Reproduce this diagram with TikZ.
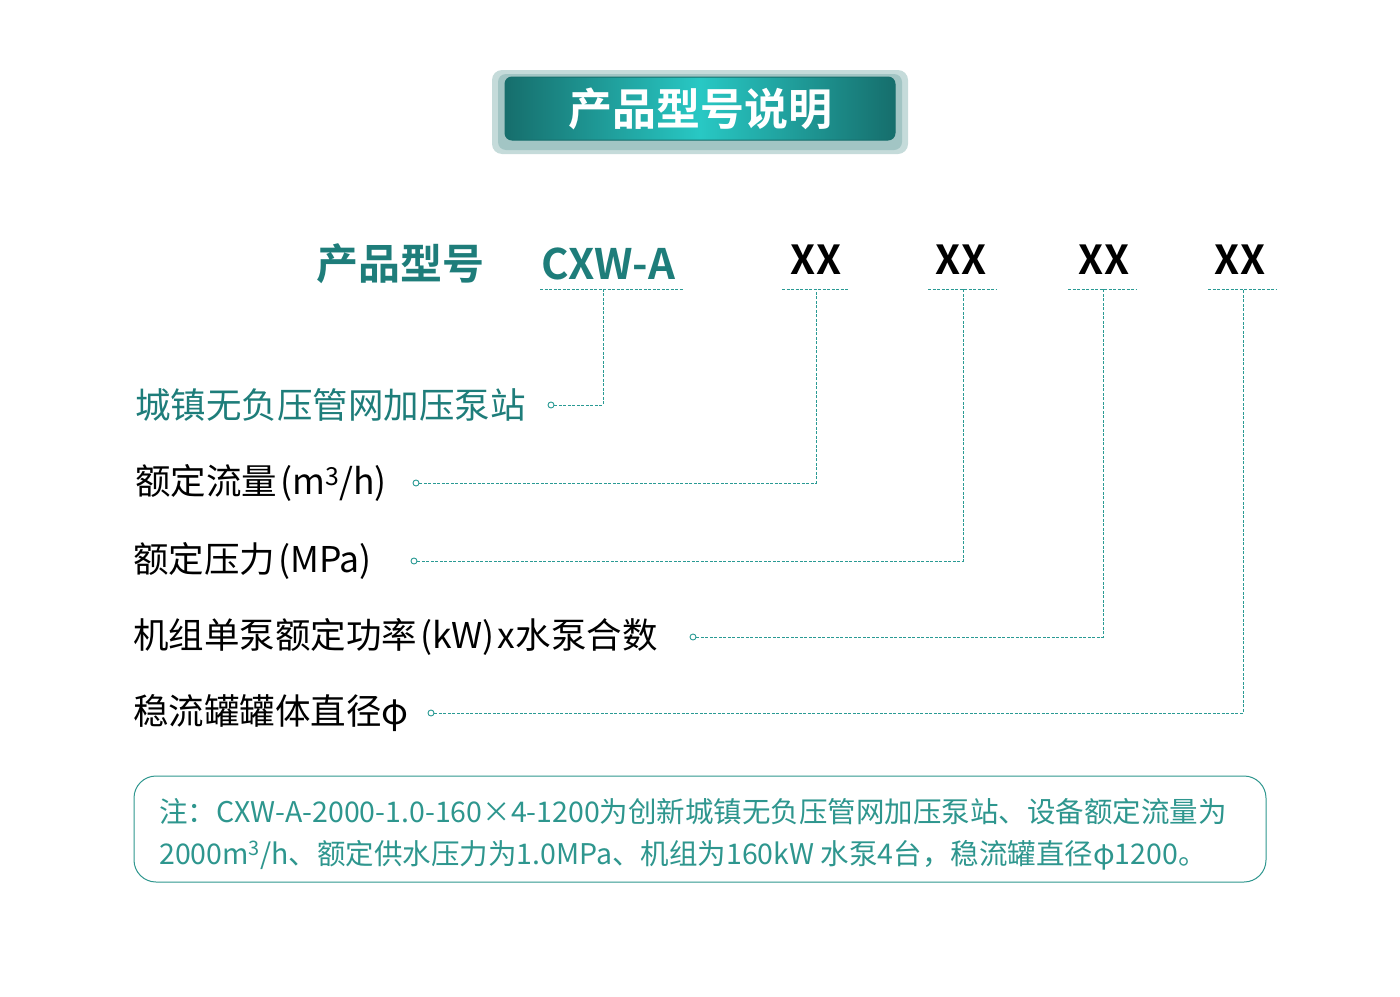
\documentclass[tikz,border=0pt]{standalone}
\usepackage{fontspec}
\setmainfont{Noto Sans CJK SC}[BoldFont={Noto Sans CJK SC Bold}]
\usetikzlibrary{positioning,shadows}
\definecolor{headColor}{RGB}{30,125,122}
\definecolor{lineColor}{RGB}{42,154,148}
\definecolor{noteColor}{RGB}{46,150,142}
\definecolor{bannerDark}{RGB}{22,110,108}
\definecolor{bannerLight}{RGB}{40,200,196}
\newcommand{\lp}{\hspace{3pt}(}
\newcommand{\rp}{)\hspace{3pt}}
\tikzstyle{leader} = [color=lineColor, dash pattern=on 3pt off 1.5pt, line width=.9pt]
\tikzstyle{stub} = [circle, draw=lineColor, line width=.9pt, minimum size=6pt, inner sep=0pt, fill=white]
\tikzstyle{item} = [anchor=west, inner sep=0pt, font=\fontsize{35.5}{40}\selectfont]
\tikzstyle{code} = [inner sep=0pt, font=\fontsize{42}{48}\selectfont\bfseries]
\tikzstyle{codeX} = [inner sep=0pt, black, font=\fontsize{40}{46}\selectfont\bfseries]
\begin{document}
\begin{tikzpicture}[x=1pt, y=-1pt]
  \useasboundingbox (0,0) rectangle (1400,996);
  % banner
  \fill [bannerDark!25, rounded corners=10pt] (492,70) rectangle (908,154);
  \fill [bannerDark!40, rounded corners=8pt] (498,74) rectangle (902,150);
  \shade [left color=bannerDark, right color=bannerDark, middle color=bannerLight,
          rounded corners=7pt, draw=bannerDark, line width=1pt] (505,77) rectangle (895,140);
  \node [font=\fontsize{44}{50}\selectfont\bfseries, white] (title) at (700,109) {产品型号说明};

  % model code
  \node [code, headColor] (head) at (400,264) {产品型号};
  \node [code, headColor] (cxw) at (608,264) {CXW-A};
  \node [codeX] (xa) at (816,260) {XX};
  \node [codeX] (xb) at (961,260) {XX};
  \node [codeX] (xc) at (1104,260) {XX};
  \node [codeX] (xd) at (1240,260) {XX};
  \draw [leader] (540,289) -- (683,289);
  \draw [leader] (782,289) -- (849,289);
  \draw [leader] (928,289) -- (996,289);
  \draw [leader] (1068,289) -- (1136,289);
  \draw [leader] (1208,289) -- (1276,289);
  \coordinate (ta) at (603,289);
  \coordinate (tb) at (816,289);
  \coordinate (tc) at (963,289);
  \coordinate (td) at (1103,289);
  \coordinate (te) at (1243,289);

  % labels
  \node [item, headColor] (la) at (135,405) {城镇无负压管网加压泵站};
  \node [item] (lb) at (135,483) {额定流量\lp m\textsuperscript{3}/h\rp};
  \node [item] (lc) at (133,561) {额定压力\lp MPa\rp};
  \node [item] (ld) at (133,637) {机组单泵额定功率\lp kW\rp x水泵合数};
  \node [item] (le) at (133,713) {稳流罐罐体直径φ};
  \node [stub] (sa) at (551,405) {};
  \node [stub] (sb) at (416,483) {};
  \node [stub] (sc) at (414,561) {};
  \node [stub] (sd) at (693,637) {};
  \node [stub] (se) at (431,713) {};
  \draw [leader] (sa) -- (sa -| ta) -- (ta);
  \draw [leader] (sb) -- (sb -| tb) -- (tb);
  \draw [leader] (sc) -- (sc -| tc) -- (tc);
  \draw [leader] (sd) -- (sd -| td) -- (td);
  \draw [leader] (se) -- (se -| te) -- (te);

  % note
  \draw [noteColor, line width=1pt, rounded corners=22pt] (134,776) rectangle (1266,882);
  \node [anchor=west, inner sep=0pt, noteColor, font=\fontsize{28.5}{42}\selectfont, align=left] (note) at (159,834)
    {注：CXW-A-2000-1.0-160×4-1200为创新城镇无负压管网加压泵站、设备额定流量为\\
     2000m\textsuperscript{3}/h、额定供水压力为1.0MPa、机组为160kW 水泵4台，稳流罐直径φ1200。};
\end{tikzpicture}
\end{document}
